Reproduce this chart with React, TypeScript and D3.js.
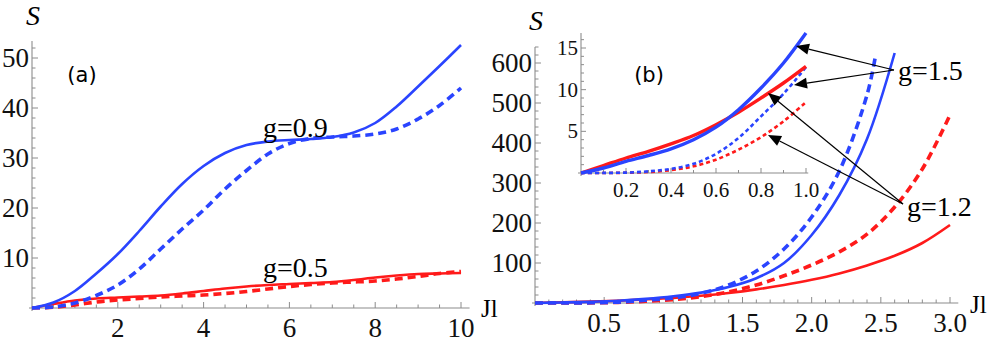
import React from "react";
import * as d3 from "d3";

// ---------- Data ----------
// Panel (a)
const aX = [0, 0.5, 1, 1.5, 2, 2.5, 3, 3.5, 4, 4.5, 5, 5.5, 6, 6.5, 7, 7.5, 8, 8.5, 9, 9.5, 10];
const aBlueSolid = [0, 1.1, 3.4, 6.9, 10.8, 15.4, 20.3, 24.8, 28.4, 31, 32.6, 33.3, 33.6, 33.8, 34.2, 35.1, 37, 40.3, 44.3, 48.4, 52.6];
const aBlueDashed = [0, 0.2, 1, 2.5, 4.6, 7.8, 11.8, 15.8, 19.6, 23.8, 27.5, 30.8, 32.9, 33.9, 34.2, 34.4, 34.8, 35.8, 37.8, 40.5, 44];
const aRedSolid = [0, 0.8, 1.5, 1.9, 2.1, 2.3, 2.5, 2.9, 3.4, 3.9, 4.3, 4.6, 4.8, 5.0, 5.2, 5.6, 6.1, 6.5, 6.8, 6.9, 7.0];
const aRedDashed = [0, 0.15, 0.6, 1.2, 1.6, 1.9, 2.2, 2.4, 2.6, 2.9, 3.3, 3.8, 4.3, 4.7, 5.0, 5.2, 5.4, 5.8, 6.3, 6.9, 7.3];
const aXTicks = [2, 4, 6, 8, 10];
const aYTicks = [10, 20, 30, 40, 50];

// Panel (b) main
const bX = [0, 0.2, 0.4, 0.6, 0.8, 1.0, 1.2, 1.4, 1.6, 1.8, 2.0, 2.2, 2.4, 2.6, 2.8, 3.0];
const bBlueSolid = [0, 1.4, 2.9, 5.5, 10.2, 16.8, 26, 40, 62, 100, 170, 270, 410, 625];
const bBlueDashedX = [0, 0.2, 0.4, 0.6, 0.8, 1.0, 1.2, 1.4, 1.6, 1.8, 2.0, 2.2, 2.4, 2.46];
const bBlueDashed = [0, 0.05, 0.5, 2.3, 6.8, 12.7, 24, 45, 80, 135, 215, 330, 520, 615];
const bRedSolid = [0, 1.8, 3.5, 5.8, 9, 12.8, 18, 25, 34, 45, 58, 74, 94, 118, 150, 195];
const bRedDashed = [0, 0.03, 0.35, 1.6, 4.3, 8.5, 16, 28, 45, 68, 95, 128, 172, 240, 335, 470];
const bXTicks = [0.5, 1.0, 1.5, 2.0, 2.5, 3.0];
const bYTicks = [100, 200, 300, 400, 500, 600];

// Panel (b) inset
const iX = [0, 0.1, 0.2, 0.3, 0.4, 0.5, 0.6, 0.7, 0.8, 0.9, 1.0];
const iBlueSolid = [0, 0.6, 1.4, 2.1, 2.9, 4.0, 5.5, 7.6, 10.2, 13.2, 16.8];
const iRedSolid = [0, 0.9, 1.8, 2.6, 3.5, 4.5, 5.8, 7.3, 9.0, 10.8, 12.8];
const iBlueDotted = [0, 0.01, 0.05, 0.2, 0.5, 1.1, 2.3, 4.2, 6.8, 9.5, 12.7];
const iRedDotted = [0, 0.005, 0.03, 0.12, 0.35, 0.8, 1.6, 2.8, 4.3, 6.2, 8.5];
const iXTicks = [0.2, 0.4, 0.6, 0.8, 1.0];
const iYTicks = [5, 10, 15];

const BLUE = "#2a44ff";
const RED = "#ff1a1a";
const AXIS = "#8c8c8c";
const SERIF = "'Liberation Serif', 'Times New Roman', serif";
const SANS = "'DejaVu Sans', sans-serif";

function pathOf(xs: number[], ys: number[], sx: any, sy: any) {
  const pts = ys.map((y, i) => [xs[i], y] as [number, number]);
  return d3
    .line<[number, number]>()
    .x((d) => sx(d[0]))
    .y((d) => sy(d[1]))
    .curve(d3.curveCatmullRom.alpha(0.5))(pts) as string;
}

type AxisProps = {
  sx: any;
  sy: any;
  xDomain: [number, number];
  yDomain: [number, number];
  xMajor: number[];
  yMajor: number[];
  xMinorStep: number;
  yMinorStep: number;
  fontSize: number;
  xLabelDy: number;
  yLabelDy: number;
  fmtX: (v: number) => string;
  fmtY: (v: number) => string;
  majorLen: number;
  minorLen: number;
};

function Axes(p: AxisProps) {
  const x0 = p.sx(0);
  const y0 = p.sy(0);
  const xMinor: number[] = [];
  for (let v = p.xMinorStep; v <= p.xDomain[1] + 1e-9; v += p.xMinorStep) xMinor.push(+v.toFixed(6));
  const yMinor: number[] = [];
  for (let v = p.yMinorStep; v <= p.yDomain[1] + 1e-9; v += p.yMinorStep) yMinor.push(+v.toFixed(6));
  const isMajor = (arr: number[], v: number) => arr.some((m) => Math.abs(m - v) < 1e-6);
  return (
    <g>
      <line x1={p.sx(p.xDomain[0]) - 3} x2={p.sx(p.xDomain[1])} y1={y0} y2={y0} stroke={AXIS} strokeWidth={1.1} />
      <line x1={x0} x2={x0} y1={y0 + 3} y2={p.sy(p.yDomain[1])} stroke={AXIS} strokeWidth={1.1} />
      {xMinor.map((v) => (
        <line
          key={"xm" + v}
          x1={p.sx(v)}
          x2={p.sx(v)}
          y1={y0}
          y2={y0 - (isMajor(p.xMajor, v) ? p.majorLen : p.minorLen)}
          stroke={AXIS}
          strokeWidth={1}
        />
      ))}
      {yMinor.map((v) => (
        <line
          key={"ym" + v}
          x1={x0}
          x2={x0 + (isMajor(p.yMajor, v) ? p.majorLen : p.minorLen)}
          y1={p.sy(v)}
          y2={p.sy(v)}
          stroke={AXIS}
          strokeWidth={1}
        />
      ))}
      {p.xMajor.map((v) => (
        <text key={"xl" + v} x={p.sx(v)} y={y0 + p.xLabelDy} textAnchor="middle" fontFamily={SERIF} fontSize={p.fontSize} fill="#111">
          {p.fmtX(v)}
        </text>
      ))}
      {p.yMajor.map((v) => (
        <text key={"yl" + v} x={x0 - 3} y={p.sy(v) + p.yLabelDy} textAnchor="end" fontFamily={SERIF} fontSize={p.fontSize} fill="#111">
          {p.fmtY(v)}
        </text>
      ))}
    </g>
  );
}

function Arrow({ x1, y1, x2, y2 }: { x1: number; y1: number; x2: number; y2: number }) {
  const ang = Math.atan2(y2 - y1, x2 - x1);
  const L = 13;
  const W = 5.5;
  const bx = x2 - L * Math.cos(ang);
  const by = y2 - L * Math.sin(ang);
  const px = -Math.sin(ang) * W;
  const py = Math.cos(ang) * W;
  return (
    <g>
      <line x1={x1} y1={y1} x2={bx} y2={by} stroke="#000" strokeWidth={1.2} />
      <polygon points={`${x2},${y2} ${bx + px},${by + py} ${bx - px},${by - py}`} fill="#000" />
    </g>
  );
}

export default function App() {
  const xA = d3.scaleLinear().domain([0, 10]).range([32, 461]);
  const yA = d3.scaleLinear().domain([0, 50]).range([308, 58]);
  const xB = d3.scaleLinear().domain([0, 3]).range([535, 950]);
  const yB = d3.scaleLinear().domain([0, 600]).range([303, 63]);
  const xI = d3.scaleLinear().domain([0, 1]).range([581, 806]);
  const yI = d3.scaleLinear().domain([0, 15]).range([173, 48]);

  const f1 = (v: number) => v.toFixed(1);
  const f0 = (v: number) => String(v);

  return (
    <svg width={989} height={346} style={{ position: "absolute", left: 0, top: 0, background: "#fff" }}>
      {/* Panel (a) */}
      <Axes
        sx={xA}
        sy={yA}
        xDomain={[0, 10.2]}
        yDomain={[0, 53.4]}
        xMajor={aXTicks}
        yMajor={aYTicks}
        xMinorStep={0.5}
        yMinorStep={2}
        fontSize={27}
        xLabelDy={29}
        yLabelDy={9}
        fmtX={f0}
        fmtY={f0}
        majorLen={6}
        minorLen={3.5}
      />
      <path d={pathOf(aX, aRedDashed, xA, yA)} fill="none" stroke={RED} strokeWidth={3.6} strokeDasharray="8,5" />
      <path d={pathOf(aX, aRedSolid, xA, yA)} fill="none" stroke={RED} strokeWidth={2.6} />
      <path d={pathOf(aX, aBlueDashed, xA, yA)} fill="none" stroke={BLUE} strokeWidth={3.6} strokeDasharray="8,5" />
      <path d={pathOf(aX, aBlueSolid, xA, yA)} fill="none" stroke={BLUE} strokeWidth={2.6} />
      <text x={33} y={25} textAnchor="middle" fontFamily={SERIF} fontStyle="italic" fontSize={28}>S</text>
      <text x={481} y={317} fontFamily={SERIF} fontSize={25}>Jl</text>
      <text x={82} y={82} textAnchor="middle" fontFamily={SANS} fontSize={21}>(a)</text>
      <text x={263} y={137} fontFamily={SERIF} fontSize={28}>g=0.9</text>
      <text x={263} y={277} fontFamily={SERIF} fontSize={28}>g=0.5</text>

      {/* Panel (b) main */}
      <Axes
        sx={xB}
        sy={yB}
        xDomain={[0, 3.06]}
        yDomain={[0, 640]}
        xMajor={bXTicks}
        yMajor={bYTicks}
        xMinorStep={0.1}
        yMinorStep={20}
        fontSize={27}
        xLabelDy={29}
        yLabelDy={9}
        fmtX={f1}
        fmtY={f0}
        majorLen={6}
        minorLen={3.5}
      />
      <path d={pathOf(bX, bRedDashed, xB, yB)} fill="none" stroke={RED} strokeWidth={3.6} strokeDasharray="8,5" />
      <path d={pathOf(bX, bRedSolid, xB, yB)} fill="none" stroke={RED} strokeWidth={2.6} />
      <path d={pathOf(bBlueDashedX, bBlueDashed, xB, yB)} fill="none" stroke={BLUE} strokeWidth={3.6} strokeDasharray="8,5" />
      <path d={pathOf(bX, bBlueSolid, xB, yB)} fill="none" stroke={BLUE} strokeWidth={2.6} />
      <text x={536} y={30} textAnchor="middle" fontFamily={SERIF} fontStyle="italic" fontSize={28}>S</text>
      <text x={970} y={313} fontFamily={SERIF} fontSize={25}>Jl</text>

      {/* Inset */}
      <Axes
        sx={xI}
        sy={yI}
        xDomain={[0, 1.01]}
        yDomain={[0, 16.8]}
        xMajor={iXTicks}
        yMajor={iYTicks}
        xMinorStep={0.1}
        yMinorStep={1}
        fontSize={21}
        xLabelDy={24}
        yLabelDy={7}
        fmtX={f1}
        fmtY={f0}
        majorLen={5}
        minorLen={3}
      />
      <path d={pathOf(iX, iRedDotted, xI, yI)} fill="none" stroke={RED} strokeWidth={2.6} strokeDasharray="4,3" />
      <path d={pathOf(iX, iBlueDotted, xI, yI)} fill="none" stroke={BLUE} strokeWidth={2.6} strokeDasharray="4,3" />
      <path d={pathOf(iX, iRedSolid, xI, yI)} fill="none" stroke={RED} strokeWidth={3.4} />
      <path d={pathOf(iX, iBlueSolid, xI, yI)} fill="none" stroke={BLUE} strokeWidth={3.4} />
      <text x={649} y={82} textAnchor="middle" fontFamily={SANS} fontSize={21}>(b)</text>

      {/* Annotations */}
      <Arrow x1={894} y1={70} x2={796} y2={46} />
      <Arrow x1={894} y1={70} x2={794} y2={85} />
      <Arrow x1={903} y1={204} x2={768} y2={93} />
      <Arrow x1={903} y1={204} x2={768} y2={135} />
      <text x={898} y={80} fontFamily={SERIF} fontSize={28}>g=1.5</text>
      <text x={907} y={216} fontFamily={SERIF} fontSize={28}>g=1.2</text>
    </svg>
  );
}
